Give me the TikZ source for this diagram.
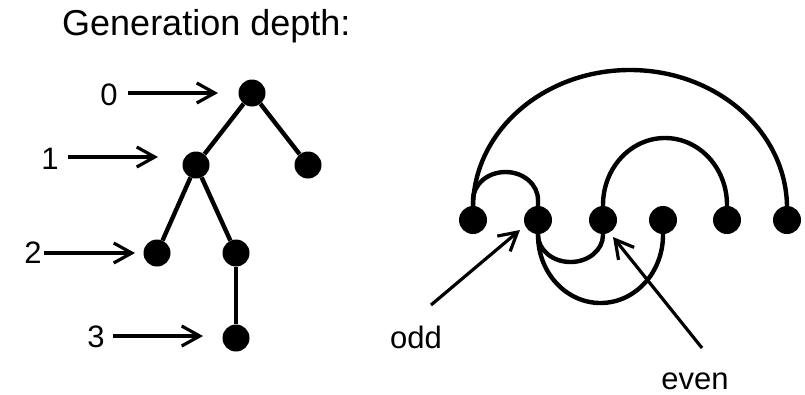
\documentclass[tikz,border=0pt]{standalone}
\usepackage{fontspec}
\setmainfont{Liberation Sans}
\usetikzlibrary{arrows.meta}
\begin{document}
\begin{tikzpicture}[x=1pt,y=-1pt,
  dot/.style={circle,fill=black,inner sep=0pt,minimum size=27pt},
  rdot/.style={circle,fill=black,inner sep=0pt,minimum size=28pt},
  edge/.style={line width=4.4pt},
  arr/.style={line width=3.2pt,-{Straight Barb[length=18pt,width=20pt]}},
  lbl/.style={font=\fontsize{31}{37}\selectfont, inner sep=0pt},
]
\path[use as bounding box] (0,0) rectangle (805,394);
\node[anchor=base west, inner sep=0pt, font=\fontsize{36}{43}\selectfont] (title) at (62,35) {Generation depth:};

% tree
\node[dot] (r)  at (252,93) {};
\node[dot] (a)  at (196,165) {};
\node[dot] (b)  at (308,165) {};
\node[dot] (c)  at (157,253) {};
\node[dot] (d)  at (236,253) {};
\node[dot] (e)  at (236,338) {};
\draw[edge] (r) -- (a);
\draw[edge] (r) -- (b);
\draw[edge] (a) -- (c);
\draw[edge] (a) -- (d);
\draw[edge] (d) -- (e);

% depth labels
\node[lbl] (l0) at (109,95) {0};
\node[lbl] (l1) at (50,159) {1};
\node[lbl] (l2) at (33,253) {2};
\node[lbl] (l3) at (96,337) {3};
\coordinate (t0) at (218,93);
\coordinate (t1) at (158,157);
\coordinate (t2) at (135,253);
\coordinate (t3) at (203,336);
\draw[arr, shorten <=10pt] (l0.east |- t0) -- (t0);
\draw[arr, shorten <=9pt] (l1.east |- t1) -- (t1);
\draw[arr, shorten <=2pt] (l2.east |- t2) -- (t2);
\draw[arr, shorten <=8pt] (l3.east |- t3) -- (t3);

% right diagram
\node[rdot] (n1) at (473,220) {};
\node[rdot] (n2) at (538,220) {};
\node[rdot] (n3) at (603,220) {};
\node[rdot] (n4) at (663,220) {};
\node[rdot] (n5) at (727,220) {};
\node[rdot] (n6) at (787,220) {};
\draw[edge] (n1.center) -- ++(0,-12) arc[start angle=180,end angle=0,x radius=157pt,y radius=138pt] -- (n6.center);
\draw[edge] (n1.center) -- ++(0,-20) arc[start angle=180,end angle=0,x radius=32.5pt,y radius=28pt] -- (n2.center);
\draw[edge] (n3.center) -- ++(0,-15) arc[start angle=180,end angle=0,x radius=62pt,y radius=67pt] -- (n5.center);
\draw[edge] (n2.center) -- ++(0,15) arc[start angle=180,end angle=360,x radius=32.5pt,y radius=27pt] -- (n3.center);
\draw[edge] (n2.center) -- ++(0,15) arc[start angle=180,end angle=360,x radius=62.5pt,y radius=68pt] -- (n4.center);

\node[lbl] (lodd) at (416,337) {odd};
\node[lbl] (leven) at (695,381) {even};
\coordinate (oddtail) at (431,305);
\coordinate (oddtip) at (520,230);
\coordinate (eventail) at (702,348);
\coordinate (eventip) at (613,237);
\draw[arr] (oddtail) -- (oddtip);
\draw[arr] (eventail) -- (eventip);
\end{tikzpicture}
\end{document}
